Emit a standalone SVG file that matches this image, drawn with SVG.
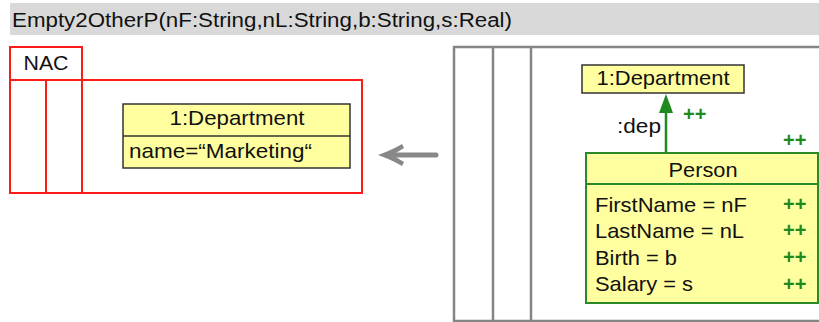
<svg xmlns="http://www.w3.org/2000/svg" width="819" height="322" viewBox="0 0 819 322">
<style>
text{font-family:"Liberation Sans",Arial,sans-serif;fill:#111}
.t{font-size:21px}
.c{text-anchor:middle}
.pp{font-size:20px;font-weight:bold;fill:#1e8a1e}
.nac{fill:none;stroke:#ff1a1a;stroke-width:2}
.frame{fill:none;stroke:#858585;stroke-width:2.5}
.obj{fill:#ffffa0;stroke:#333;stroke-width:1.5}
.gobj{fill:#ffffa0;stroke:#2a8a2a;stroke-width:2}
</style>
<rect x="10" y="3" width="812" height="32" fill="#d9d9d9"/>
<text x="12" y="27" font-size="20" textLength="500" lengthAdjust="spacingAndGlyphs">Empty2OtherP(nF:String,nL:String,b:String,s:Real)</text>

<g id="nac">
<rect class="nac" x="10" y="47" width="72" height="33" fill="#fff"/>
<text class="c" x="46" y="70" font-size="20" textLength="45" lengthAdjust="spacingAndGlyphs">NAC</text>
<rect class="nac" x="10" y="80" width="352" height="113"/>
<line class="nac" x1="46" y1="80" x2="46" y2="193"/>
<line class="nac" x1="82" y1="80" x2="82" y2="193"/>
</g>

<g id="nac-department">
<rect class="obj" x="123" y="104" width="227" height="64"/>
<line x1="123" y1="136" x2="350" y2="136" stroke="#333" stroke-width="1.5"/>
<text class="t c" x="237" y="125" textLength="135" lengthAdjust="spacingAndGlyphs">1:Department</text>
<text class="t" x="129" y="158" textLength="183" lengthAdjust="spacingAndGlyphs">name=“Marketing“</text>
</g>

<g id="rule-arrow">
<line x1="386" y1="155" x2="436" y2="155" stroke="#888" stroke-width="5" stroke-linecap="round"/>
<path d="M378 155 Q392 150 402 144 L404 148 Q396 153 392 155 Q396 157 404 162 L402 166 Q392 160 378 155 Z" fill="#888"/>
</g>

<g id="lhs">
<path class="frame" d="M825 47 H454 V321 H825"/>
<line class="frame" x1="493" y1="47" x2="493" y2="321"/>
<line class="frame" x1="531" y1="47" x2="531" y2="321"/>
</g>

<g id="department">
<rect class="obj" x="582" y="65" width="162" height="28"/>
<text class="t c" x="663" y="85" textLength="133" lengthAdjust="spacingAndGlyphs">1:Department</text>
</g>

<g id="connectors">
<line x1="666" y1="153" x2="666" y2="110" stroke="#1e8a1e" stroke-width="2.5"/>
<path d="M666 94 L673 113 L659 113 Z" fill="#1e8a1e"/>
<text class="t" x="617" y="133" font-size="20" textLength="44" lengthAdjust="spacingAndGlyphs">:dep</text>
<text class="pp" x="683" y="121">++</text>
</g>

<g id="person">
<text class="pp" x="783" y="147">++</text>
<rect class="gobj" x="586" y="153" width="232" height="150"/>
<line x1="586" y1="184" x2="818" y2="184" stroke="#2a8a2a" stroke-width="2"/>
<text class="t c" x="703" y="177" textLength="69" lengthAdjust="spacingAndGlyphs">Person</text>
<text class="t" x="595" y="212" textLength="152" lengthAdjust="spacingAndGlyphs">FirstName = nF</text>
<text class="t" x="595" y="238" textLength="149" lengthAdjust="spacingAndGlyphs">LastName = nL</text>
<text class="t" x="595" y="265" textLength="82" lengthAdjust="spacingAndGlyphs">Birth = b</text>
<text class="t" x="595" y="291" textLength="98" lengthAdjust="spacingAndGlyphs">Salary = s</text>
<text class="pp" x="783" y="211">++</text>
<text class="pp" x="783" y="237">++</text>
<text class="pp" x="783" y="264">++</text>
<text class="pp" x="783" y="291">++</text>
</g>
</svg>
